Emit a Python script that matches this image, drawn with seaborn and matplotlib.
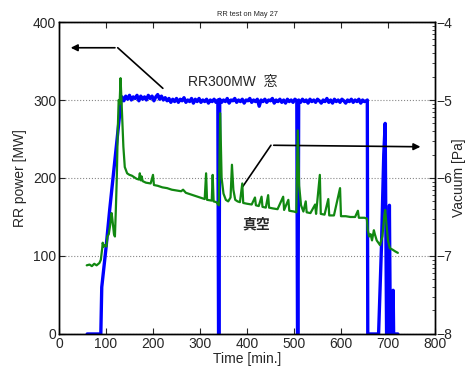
import numpy as np
import matplotlib
matplotlib.use("Agg")
import matplotlib.pyplot as plt
import matplotlib.ticker as mticker
import seaborn as sns

# RR power [MW] vs time [min.]
power_time = [60, 89, 91, 100, 108, 115, 122, 128, 132,
              134, 138, 142, 146, 150, 154, 158, 162, 166, 170, 174, 178, 182, 186, 190, 194,
              198, 202, 206, 210, 214, 218, 222, 226, 230, 234, 238, 242, 246, 250, 254, 258,
              262, 266, 270, 274, 278, 282, 286, 290, 294, 298, 302, 306, 310, 314, 318, 322,
              326, 330, 334, 338, 339.5, 340.5,
              342, 346, 350, 354, 358, 362, 366, 370, 374, 378, 382, 386, 390, 394, 398, 402,
              406, 410, 414, 418, 422, 426, 430, 434, 438, 442, 446, 450, 454, 458, 462, 466,
              470, 474, 478, 482, 486, 490, 494, 498, 502, 506, 507.5, 508.5,
              510, 514, 518, 522, 526, 530, 534, 538, 542, 546, 550, 554, 558, 562, 566, 570,
              574, 578, 582, 586, 590, 594, 598, 602, 606, 610, 614, 618, 622, 626, 630, 634,
              638, 642, 646, 650, 654, 656,
              657, 680, 686, 691, 694, 697, 701, 703, 705, 709, 711, 712, 721]
power_mw = [0, 0, 60, 110, 160, 200, 240, 275, 300,
            304, 299, 305, 301, 306, 300, 304, 302, 306, 299, 305, 301, 304, 300, 306, 302,
            305, 299, 304, 307, 301, 305, 300, 303, 299, 302, 297, 301, 298, 302, 297, 301,
            299, 303, 297, 300, 298, 302, 296, 301, 298, 302, 297, 300, 298, 301, 296, 300,
            298, 301, 297, 300, 0, 0,
            301, 297, 300, 298, 302, 296, 300, 299, 302, 297, 300, 298, 301, 296, 300, 299,
            302, 297, 300, 298, 301, 292, 300, 298, 301, 297, 300, 299, 302, 296, 300, 298,
            301, 297, 300, 296, 301, 298, 300, 297, 301, 299, 0, 0,
            300, 297, 301, 298, 300, 296, 301, 298, 300, 297, 301, 299, 296, 300, 298, 302,
            297, 300, 296, 301, 298, 300, 297, 301, 299, 296, 300, 298, 301, 297, 300, 298,
            301, 296, 300, 298, 299, 300,
            0, 0, 110, 230, 270, 0, 0, 165, 0, 0, 56, 0, 0]

# Vacuum, log10 [Pa]
vac_time = [59, 65, 70, 75, 80, 86, 89, 92, 93, 95, 98, 101, 103, 106, 109, 112, 114, 117,
            119, 121, 123, 125, 127, 129, 131, 133, 135, 137, 140, 145, 150, 155, 160, 165,
            170, 172, 174, 176, 178, 185, 195, 200, 202, 210, 220, 230, 240, 250, 260, 264,
            270, 280, 290, 300, 310, 313, 315, 325, 327, 329, 335, 340, 343, 346, 350, 355,
            360, 365, 368, 371, 375, 380, 385, 390, 392, 400, 410, 417, 419, 425, 431, 433,
            440, 445, 447, 455, 465, 477, 479, 488, 490, 500, 505, 508, 511, 515, 520, 525,
            527, 535, 545, 547, 555, 557, 565, 573, 575, 585, 598, 600, 610, 620, 630, 636,
            638, 645, 650, 655, 657, 660, 663, 666, 670, 672, 676, 683, 688, 692, 694, 697,
            700, 704, 710, 715, 721]
vac_log = [-7.12, -7.11, -7.13, -7.10, -7.12, -7.09, -7.05, -6.90, -6.83, -6.88, -6.86,
           -6.88, -6.75, -6.72, -6.60, -6.45, -6.55, -6.72, -6.75, -6.40, -6.00, -5.40,
           -5.00, -5.05, -4.72, -5.00, -5.30, -5.60, -5.86, -5.94, -5.96, -5.97, -5.99,
           -6.01, -6.02, -5.94, -6.03, -5.98, -6.04, -6.06, -6.07, -5.96, -6.09, -6.10,
           -6.12, -6.13, -6.15, -6.16, -6.17, -6.15, -6.19, -6.21, -6.23, -6.25, -6.27,
           -5.94, -6.28, -6.29, -5.96, -6.30, -6.31, -6.35, -5.17, -6.00, -6.20, -6.28,
           -6.30, -6.25, -5.83, -6.15, -6.28, -6.30, -6.31, -6.07, -6.32, -6.33, -6.34,
           -6.25, -6.35, -6.36, -6.24, -6.37, -6.38, -6.22, -6.38, -6.39, -6.40, -6.24,
           -6.41, -6.28, -6.42, -6.43, -6.44, -5.39, -6.10, -6.35, -6.43, -6.30, -6.44,
           -6.45, -6.34, -6.46, -5.96, -6.46, -6.47, -6.27, -6.48, -6.48, -6.13, -6.49,
           -6.49, -6.50, -6.50, -6.42, -6.51, -6.51, -6.51, -6.52, -6.67, -6.75, -6.72,
           -6.80, -6.67, -6.72, -6.80, -6.86, -6.75, -6.50, -6.41, -6.60, -6.80, -6.90,
           -6.92, -6.94, -6.96]

x_ticks = [0, 100, 200, 300, 400, 500, 600, 700, 800]
y_ticks = [0, 100, 200, 300, 400]

sns.set_style("ticks")
plt.rcParams['font.family'] = ['Liberation Sans', 'Noto Sans CJK JP', 'DejaVu Sans']
plt.rcParams['axes.unicode_minus'] = True

fig = plt.figure(figsize=(4.7, 3.67), dpi=100)
ax = fig.add_axes([0.1255, 0.09, 0.80, 0.85])

sns.lineplot(x=power_time, y=power_mw, ax=ax, color='#0000ff', lw=2.4,
             estimator=None, sort=False)
ax.set_xlim(0, 800)
ax.set_ylim(0, 400)
ax.set_xticks(x_ticks)
ax.set_yticks(y_ticks)
ax.tick_params(direction='in', length=4, width=0.8, labelsize=10, pad=2,
               top=True, right=False)
ax.yaxis.grid(True, linestyle=':', color='#888888', lw=0.8)
ax.set_xlabel("Time [min.]", fontsize=10, labelpad=1)
ax.set_ylabel("RR power [MW]", fontsize=10, labelpad=4)
ax.set_title("RR test on May 27", fontsize=5.3, pad=4)

ax2 = ax.twinx()
sns.lineplot(x=vac_time, y=np.power(10.0, vac_log), ax=ax2, color='#118811', lw=1.6,
             estimator=None, sort=False)
ax2.set_yscale('log')
ax2.set_ylim(1e-8, 1e-4)
ax2.yaxis.set_major_locator(mticker.FixedLocator([1e-8, 1e-7, 1e-6, 1e-5, 1e-4]))
ax2.yaxis.set_major_formatter(mticker.FuncFormatter(
    lambda v, p: "\u2212%d" % round(-np.log10(v))))
ax2.yaxis.set_minor_locator(mticker.LogLocator(base=10, subs=np.arange(2, 10)))
ax2.yaxis.set_minor_formatter(mticker.NullFormatter())
ax2.tick_params(axis='y', which='major', direction='in', length=4, width=0.8,
                labelsize=10, pad=1)
ax2.tick_params(axis='y', which='minor', direction='in', length=2, width=0.6)
ax2.set_ylabel("Vacuum [Pa]", fontsize=10, labelpad=0)

for a in (ax, ax2):
    for s in a.spines.values():
        s.set_color('black')
        s.set_linewidth(1.0)

# annotations (in power axis units)
ax.annotate("", xy=(19, 367), xytext=(125, 367),
            arrowprops=dict(arrowstyle='-|>', color='black', lw=1.2, mutation_scale=10))
ax.plot([125, 221], [367, 315], color='black', lw=1.2)
ax.text(274, 323, "RR300MW  窓", fontsize=10, ha='left', va='center')

ax.plot([391, 451], [189, 242], color='black', lw=1.2)
ax.annotate("", xy=(775, 240), xytext=(451, 242),
            arrowprops=dict(arrowstyle='-|>', color='black', lw=1.2, mutation_scale=10))
ax.text(389, 140, "真空", fontsize=10, ha='left', va='center', fontweight='bold')

fig.savefig("out.png", dpi=100)
